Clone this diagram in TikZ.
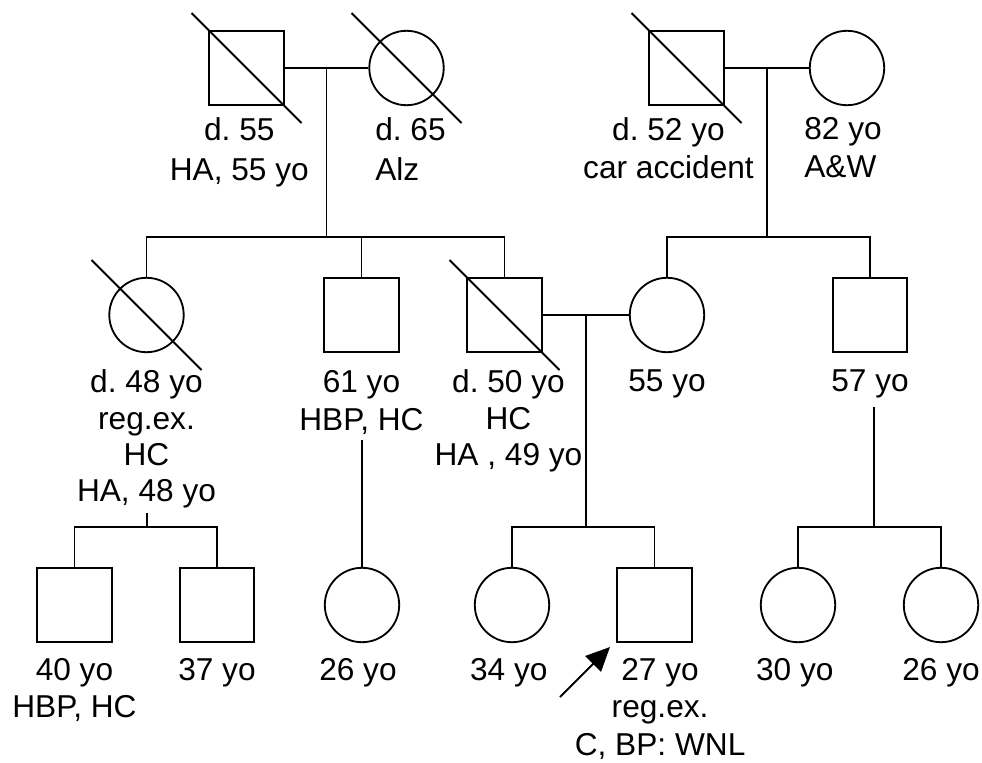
\documentclass[tikz,border=0pt]{standalone}
\usepackage{fontspec}
\setmainfont{Liberation Sans}
\usetikzlibrary{arrows.meta,positioning,calc}

\begin{document}
\begin{tikzpicture}[
  x=0.025cm, y=0.025cm,
  line width=1.3pt,
  male/.style={draw, rectangle, minimum size=1.86cm, inner sep=0pt},
  female/.style={draw, circle, minimum size=1.86cm, inner sep=0pt},
  lbl/.style={align=center, inner sep=0pt, font=\fontsize{22.5}{#1}\selectfont\frenchspacing},
  lbl/.default=26pt,
  probarr/.style={-{Triangle[length=0.6cm, width=0.55cm]}, line width=1.4pt}
]
\useasboundingbox (0,0) rectangle (982,-763);

% grandparents
\node[male] (gfp) at (246.5,-68) {};
\node[female] (gmp) at (406.5,-68) {};
\node[male] (gfm) at (686.5,-68) {};
\node[female] (gmm) at (847,-68) {};
% parents and their siblings
\node[female] (aunt) at (146.5,-315) {};
\node[male] (unclep) at (361.5,-315) {};
\node[male] (father) at (504.5,-315) {};
\node[female] (mother) at (667,-315) {};
\node[male] (unclem) at (870,-315) {};
% proband, sister and cousins
\node[male] (cous1) at (74.5,-605) {};
\node[male] (cous2) at (217,-605) {};
\node[female] (cous3) at (362,-605) {};
\node[female] (sister) at (512,-605) {};
\node[male] (proband) at (654.5,-605) {};
\node[female] (cous4) at (798,-605) {};
\node[female] (cous5) at (941,-605) {};

% labels
\node[lbl=28.5pt, below=0.27cm of gfp, xshift=-0.18cm] (gfpl) {d. 55\\HA, 55 yo};
\node[lbl=28.5pt, align=left, below=0.27cm of gmp, xshift=0.1cm] (gmpl) {d. 65\\Alz};
\node[lbl=27pt, below=0.27cm of gfm, xshift=-0.45cm] (gfml) {d. 52 yo\\car accident};
\node[lbl=27pt, align=left, below=0.27cm of gmm, xshift=-0.1cm] (gmml) {82 yo\\A\&W};
\node[lbl=25.8pt, below=0.4cm of aunt] (auntl) {d. 48 yo\\reg.ex.\\HC\\HA, 48 yo};
\node[lbl=27pt, below=0.4cm of unclep] (unclepl) {61 yo\\HBP, HC};
\node[lbl=25.8pt, below=0.4cm of father, xshift=0.1cm] (fatherl) {d. 50 yo\\HC\\HA , 49 yo};
\node[lbl, below=0.4cm of mother] (motherl) {55 yo};
\node[lbl, below=0.4cm of unclem] (unceml) {57 yo};
\node[lbl, below=0.36cm of cous1] (cous1l) {40 yo\\HBP, HC};
\node[lbl, below=0.36cm of cous2] (cous2l) {37 yo};
\node[lbl, below=0.36cm of cous3, xshift=-0.1cm] (cous3l) {26 yo};
\node[lbl, below=0.36cm of sister, xshift=-0.08cm] (sisterl) {34 yo};
\node[lbl=26.5pt, below=0.36cm of proband, xshift=0.14cm] (probandl) {27 yo\\reg.ex.\\C, BP: WNL};
\node[lbl, below=0.36cm of cous4, xshift=-0.08cm] (cous4l) {30 yo};
\node[lbl, below=0.36cm of cous5] (cous5l) {26 yo};

% deceased
\foreach \p in {gfp,gmp,gfm,aunt,father}
  \draw (\p.center) ++(-55,55) -- ++(110,-110);

% couples and sibships
\coordinate (m1) at ($(gfp.east)!0.5!(gmp.west)$);
\coordinate (s1) at (m1 |- 0,-237);
\draw (gfp) -- (gmp);
\draw (m1) -- (s1);
\draw (aunt.north) |- (s1) -| (father.north);
\draw (unclep.north) -- (unclep.north |- s1);

\coordinate (m2) at ($(gfm.east)!0.5!(gmm.west)$);
\coordinate (s2) at (m2 |- 0,-237);
\draw (gfm) -- (gmm);
\draw (m2) -- (s2);
\draw (mother.north) |- (s2) -| (unclem.north);

\coordinate (m3) at ($(father.east)!0.5!(mother.west)$);
\coordinate (s3) at (m3 |- 0,-527);
\draw (father) -- (mother);
\draw (m3) -- (s3);
\draw (sister.north) |- (s3) -| (proband.north);

\coordinate (d1) at (147,-513);
\coordinate (s4) at (d1 |- 0,-527);
\draw (d1) -- (s4);
\draw (cous1.north) |- (s4) -| (cous2.north);

\coordinate (d2) at (362,-440);
\draw (d2) -- (cous3.north);

\coordinate (d3) at (874,-407);
\coordinate (s5) at (d3 |- 0,-527);
\draw (d3) -- (s5);
\draw (cous4.north) |- (s5) -| (cous5.north);

% proband arrow
\coordinate (arrtail) at (560,-697);
\coordinate (arrtip) at (610,-647);
\draw[probarr] (arrtail) -- (arrtip);
\end{tikzpicture}
\end{document}
